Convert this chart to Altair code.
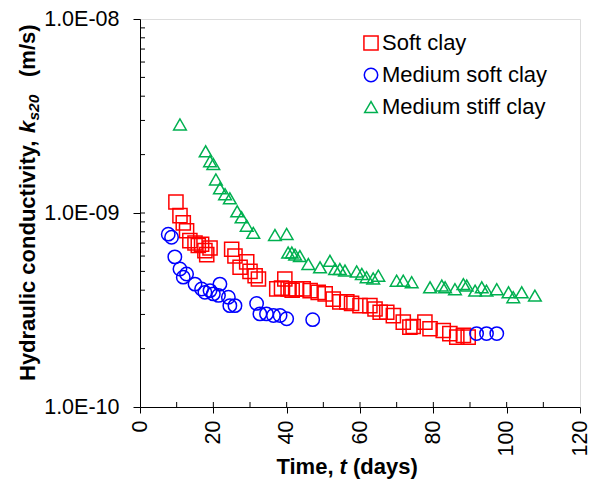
import altair as alt
import pandas as pd

# ---------------- data ----------------
series_names = ["Soft clay", "Medium soft clay", "Medium stiff clay"]
series_colors = ["#FF0000", "#0000FF", "#00B050"]
series_shapes = ["square", "circle", "triangle-up"]

# Soft clay (k in units of 1e-10 m/s)
soft_day = [9.8, 10.9, 11.8, 12.7, 13.6, 15.0, 15.9, 16.8, 17.7, 18.2, 19.1,
            25.0, 25.9, 27.3, 29.1, 30.0, 31.4, 32.3, 37.3, 38.6, 39.5, 40.4,
            41.5, 42.7, 44.5, 46.4, 48.6, 50.5, 52.7, 54.5, 56.4, 57.7, 60.0,
            62.7, 64.1, 65.5, 67.3, 69.1, 71.8, 73.6, 74.5, 77.7, 79.1, 82.7,
            84.5, 86.4, 88.2, 89.5]
soft_k = [11.4, 9.7, 8.9, 8.1, 7.2, 7.0, 6.8, 6.9, 6.4, 6.1, 6.6,
          6.5, 6.0, 5.25, 5.6, 5.0, 4.75, 4.57, 4.06, 4.1, 4.57, 4.06,
          4.0, 4.06, 4.06, 3.98, 3.9, 3.83, 3.6, 3.48, 3.48, 3.42, 3.33,
          3.33, 3.2, 3.08, 3.08, 2.96, 2.74, 2.58, 2.6, 2.74, 2.53, 2.48,
          2.39, 2.29, 2.34, 2.29]

# Medium soft clay
msoft_day = [7.7, 8.6, 9.5, 10.9, 11.8, 12.7, 15.0, 16.8, 17.7, 19.1, 20.0,
             21.4, 21.8, 24.1, 24.5, 25.9, 31.8, 32.7, 34.5, 36.4, 38.2, 40.0,
             47.1, 91.8, 94.5, 97.3]
msoft_k = [7.78, 7.5, 5.94, 5.14, 4.67, 4.85, 4.3, 4.06, 3.9, 3.98, 3.83,
           3.76, 4.3, 3.68, 3.33, 3.33, 3.42, 3.02, 3.02, 2.96, 2.96, 2.85,
           2.82, 2.39, 2.39, 2.39]

# Medium stiff clay
mstiff_day = [10.9, 17.9, 19.1, 20.0, 20.7, 21.8, 23.2, 24.5, 26.5, 27.7, 29.1,
              30.9, 36.8, 40.0, 40.4, 41.4, 42.3, 43.6, 45.9, 49.1, 51.8, 53.2,
              54.5, 55.9, 59.1, 60.5, 61.8, 63.6, 65.0, 70.0, 71.8, 74.1, 79.1,
              82.3, 83.2, 85.9, 88.2, 89.1, 91.4, 93.2, 94.5, 97.3, 100.5, 101.8,
              104.1, 107.7]
mstiff_k = [28.6, 20.8, 18.5, 17.9, 14.9, 13.4, 12.5, 11.9, 10.2, 9.5, 8.6,
            7.9, 7.7, 7.8, 6.25, 6.25, 6.1, 6.0, 5.46, 5.25, 5.67, 5.14,
            5.14, 5.05, 5.0, 4.85, 4.67, 4.6, 4.75, 4.48, 4.48, 4.4, 4.14,
            4.23, 4.14, 4.05, 4.3, 4.23, 3.98, 4.14, 3.98, 4.05, 3.9, 3.68,
            3.9, 3.75]

x_tick_values = [0, 20, 40, 60, 80, 100, 120]
x_inner_ticks = [10, 20, 30, 40, 50, 60, 70, 80, 90, 100, 110]
y_tick_values = [1e-10, 1e-9, 1e-8]
y_inner_ticks = [m * 10.0 ** e for e in (-10, -9) for m in range(2, 10)] + [1e-9]

rows = []
for name, days, ks in [(series_names[0], soft_day, soft_k),
                       (series_names[1], msoft_day, msoft_k),
                       (series_names[2], mstiff_day, mstiff_k)]:
    for d, k in zip(days, ks):
        rows.append({"series": name, "day": d, "k": k * 1e-10})
df = pd.DataFrame(rows)

# ---------------- chart ----------------
W, H = 440, 388
TOP = 11
FONT = "Liberation Sans"
FS = 21.5
TFS = 22

x_scale = alt.Scale(domain=[0, 120], nice=False, zero=False)
y_scale = alt.Scale(type="log", domain=[1e-10, 1e-8], nice=False)

x_axis = alt.Axis(values=x_tick_values, title=None, labelAngle=270,
                  tickSize=6, labelPadding=7, grid=False,
                  labelFontSize=FS, labelFont=FONT, labelColor="black",
                  domainColor="black", tickColor="black")
y_axis = alt.Axis(values=y_tick_values, title=None, tickSize=7,
                  labelPadding=14, grid=False,
                  labelExpr="datum.value > 5e-9 ? '1.0E-08' : (datum.value > 5e-10 ? '1.0E-09' : '1.0E-10')",
                  labelFontSize=FS, labelFont=FONT, labelColor="black",
                  domainColor="black", tickColor="black")

legend_cfg = dict(title=None, orient="none", legendX=220, legendY=13,
                  labelFontSize=22, labelFont=FONT, labelColor="black",
                  labelLimit=400, symbolSize=160, symbolStrokeWidth=1.5,
                  rowPadding=10, labelOffset=0, padding=0)

points = alt.Chart(df).mark_point(filled=False, strokeWidth=1.5, opacity=1).encode(
    x=alt.X("day:Q", scale=x_scale, axis=x_axis),
    y=alt.Y("k:Q", scale=y_scale, axis=y_axis),
    color=alt.Color("series:N", sort=series_names,
                    scale=alt.Scale(domain=series_names, range=series_colors),
                    legend=alt.Legend(**legend_cfg)),
    shape=alt.Shape("series:N", sort=series_names,
                    scale=alt.Scale(domain=series_names, range=series_shapes),
                    legend=alt.Legend(**legend_cfg)),
    size=alt.Size("series:N", sort=series_names,
                  scale=alt.Scale(domain=series_names, range=[200, 160, 230]),
                  legend=None),
)

y_ticks = alt.Chart(pd.DataFrame({"k": y_inner_ticks})).mark_rule(
    color="black", strokeWidth=1).encode(
    y=alt.Y("k:Q", scale=y_scale, axis=y_axis),
    x=alt.value(0), x2=alt.value(5))

x_ticks = alt.Chart(pd.DataFrame({"day": x_inner_ticks})).mark_rule(
    color="black", strokeWidth=1).encode(
    x=alt.X("day:Q", scale=x_scale, axis=x_axis),
    y=alt.value(H), y2=alt.value(H - 5))

one = pd.DataFrame({"a": [0]})


def txt(text, x, y, size=TFS, style="normal", align="left", angle=0):
    return alt.Chart(one).mark_text(
        text=text, font=FONT, fontSize=size, fontWeight="bold", fontStyle=style,
        align=align, baseline="alphabetic", angle=angle, color="black").encode(
        x=alt.value(x), y=alt.value(y))


# x-axis title: "Time, t (days)"
x_title = [
    txt("Time,", 193.5, 455, align="right"),
    txt("t", 199.6, 455, style="italic"),
    txt("(days)", 213, 455),
]

# y-axis title: "Hydraulic conductivity, k_s20  (m/s)" (rotated)
YX = -105
y_title = [
    txt("Hydraulic conductivity,", YX, 362, angle=270),
    txt("k", YX, 114, style="italic", angle=270),
    txt("s20", YX + 4, 101.5, size=15.5, style="italic", angle=270),
    txt("(m/s)", YX, 58, angle=270),
]

chart = alt.layer(points, y_ticks, x_ticks, *x_title, *y_title).properties(
    width=W, height=H,
    autosize=alt.AutoSizeParams(type="none"),
    padding={"left": 132, "top": TOP, "right": 10, "bottom": 74},
).configure_view(stroke="black", strokeWidth=1).configure(font=FONT)

chart.save("out.html", embed_options={"renderer": "svg", "actions": False})
